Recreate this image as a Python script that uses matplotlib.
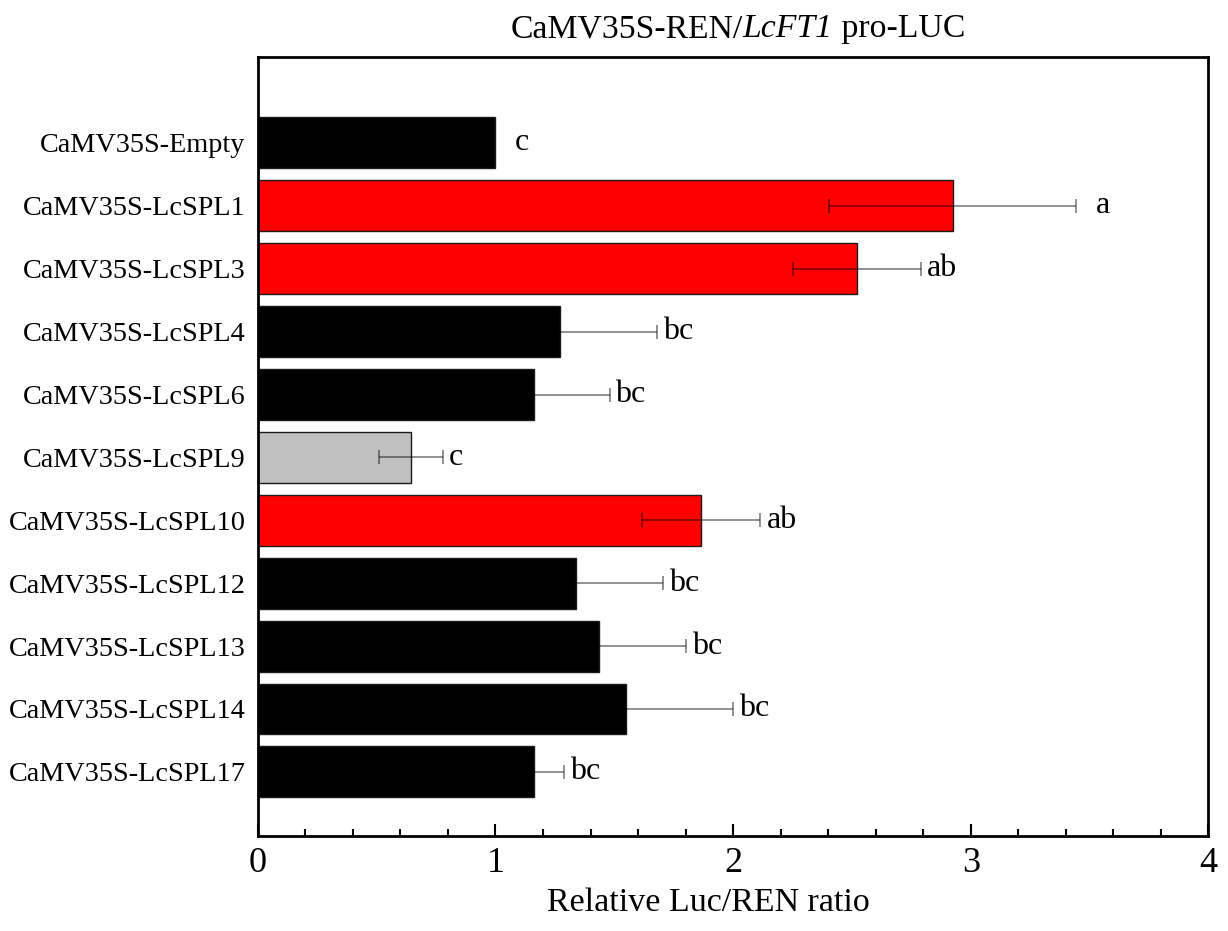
import numpy as np
import matplotlib
matplotlib.use("Agg")
import matplotlib.pyplot as plt
from matplotlib.ticker import MultipleLocator

plt.rcParams['font.family'] = ['Liberation Serif', 'DejaVu Serif']

# data
constructs = ['CaMV35S-Empty', 'CaMV35S-LcSPL1', 'CaMV35S-LcSPL3', 'CaMV35S-LcSPL4',
              'CaMV35S-LcSPL6', 'CaMV35S-LcSPL9', 'CaMV35S-LcSPL10', 'CaMV35S-LcSPL12',
              'CaMV35S-LcSPL13', 'CaMV35S-LcSPL14', 'CaMV35S-LcSPL17']
ratio = [1.00, 2.925, 2.52, 1.27, 1.16, 0.645, 1.865, 1.34, 1.435, 1.55, 1.16]
err = [0.0, 0.52, 0.27, 0.41, 0.32, 0.135, 0.25, 0.365, 0.365, 0.45, 0.13]
letters = ['c', 'a', 'ab', 'bc', 'bc', 'c', 'ab', 'bc', 'bc', 'bc', 'bc']
colors = ['black', 'red', 'red', 'black', 'black', '#c0c0c0', 'red',
          'black', 'black', 'black', 'black']

fig = plt.figure(figsize=(12.28, 9.31), dpi=100)
ax = fig.add_axes([0.210, 0.102, 0.774, 0.837])

y = np.arange(len(constructs))
ax.barh(y, ratio, height=0.81, color=colors, edgecolor='#1a1a1a', linewidth=1.0, zorder=2)
for i in range(len(y)):
    if err[i] > 0:
        ax.errorbar(ratio[i], y[i], xerr=err[i], fmt='none', ecolor='black', alpha=0.5,
                    elinewidth=1.2, capsize=5, capthick=1.2, zorder=3)

for i in range(len(y)):
    pad = 0.025
    if err[i] == 0 or letters[i] == 'a':
        pad = 0.08
    ax.text(ratio[i] + err[i] + pad, y[i], letters[i], fontsize=23,
            ha='left', va='center', zorder=4)

ax.set_xlim(0, 4)
ax.set_ylim(11.02, -1.37)
ax.set_yticks(y)
ax.set_yticklabels(constructs, fontsize=20.3)
ax.tick_params(axis='y', length=0, pad=9)
ax.xaxis.set_major_locator(MultipleLocator(1))
ax.xaxis.set_minor_locator(MultipleLocator(0.2))
ax.tick_params(axis='x', which='major', direction='in', length=9, width=1.5,
               labelsize=26, pad=8, top=False)
ax.tick_params(axis='x', which='minor', direction='in', length=5, width=1.5, top=False)
for s in ax.spines.values():
    s.set_linewidth(2)

ax.set_xlabel('Relative Luc/REN ratio', fontsize=24.5)
ax.xaxis.set_label_coords(0.474, -0.066)

# title with italic gene name, pieced together then centred
t1 = ax.text(0.5, 1.016, 'CaMV35S-REN/', transform=ax.transAxes, fontsize=24.3,
             ha='left', va='bottom')
t2 = ax.annotate('LcFT1', xy=(1, 0), xycoords=t1, fontsize=24.3, fontstyle='italic',
                 ha='left', va='bottom')
t3 = ax.annotate(' pro-LUC', xy=(1, 0), xycoords=t2, fontsize=24.3,
                 ha='left', va='bottom')
fig.canvas.draw()
r = fig.canvas.get_renderer()
x_left = t1.get_window_extent(r).x0
x_right = t3.get_window_extent(r).x1
ax_box = ax.get_window_extent(r)
t1.set_x(0.505 - (x_right - x_left) / 2 / ax_box.width)

fig.savefig('out.png', dpi=100)
